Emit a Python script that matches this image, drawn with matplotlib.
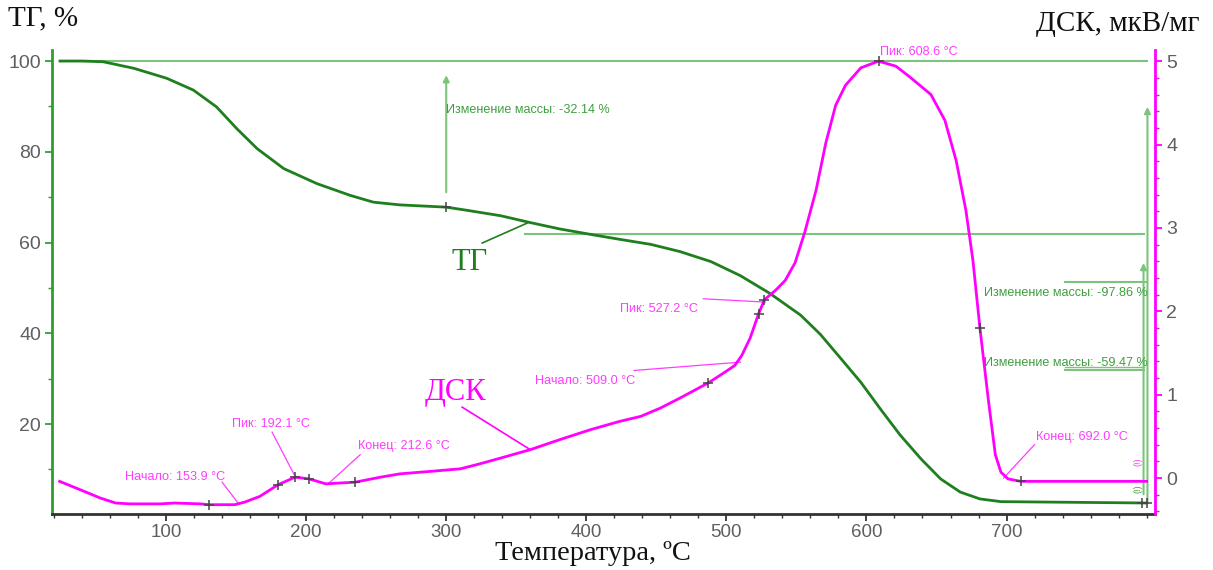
import numpy as np
import matplotlib
matplotlib.use("Agg")
import matplotlib.pyplot as plt
from matplotlib.ticker import MultipleLocator

# ---- data -------------------------------------------------------------
tg_temp = [24.3, 40, 55, 77, 100.5, 119.5, 136, 150.5, 165, 184, 207.6,
           231.4, 248, 267, 300, 315, 339, 360, 381, 403, 424, 446, 467,
           489, 510, 531, 553, 567, 581, 596, 610, 624, 639, 653, 667, 681,
           696, 800]
tg_mass = [100, 100, 99.85, 98.4, 96.2, 93.6, 89.9, 85.1, 80.7, 76.3, 73.0,
           70.4, 68.9, 68.3, 67.8, 67.1, 65.9, 64.4, 63.0, 61.8, 60.7, 59.6,
           58.0, 55.8, 52.7, 48.8, 44.0, 39.8, 34.7, 29.2, 23.3, 17.6, 12.3,
           7.9, 5.0, 3.5, 2.9, 2.6]

dsc_temp = [24, 38.6, 53, 64, 74, 96, 106, 124, 131, 149, 156, 167, 180,
            192.1, 202, 214, 224, 235, 253, 267, 289, 310, 324, 339, 360,
            381, 403, 424, 439, 453, 467, 487, 499, 506, 511, 517, 523,
            527.2, 535, 542, 549, 556, 564, 571, 578, 585, 596, 608.6, 621,
            631, 646, 656, 664, 671, 676, 681, 687, 692, 696, 701, 710, 800]
dsc_signal = [-0.04, -0.14, -0.24, -0.30, -0.31, -0.31, -0.30, -0.31, -0.32,
              -0.32, -0.29, -0.22, -0.08, 0.01, -0.01, -0.07, -0.06, -0.05,
              0.01, 0.05, 0.08, 0.11, 0.17, 0.24, 0.34, 0.46, 0.58, 0.68,
              0.74, 0.84, 0.96, 1.14, 1.27, 1.35, 1.47, 1.68, 1.97, 2.14,
              2.25, 2.37, 2.58, 2.95, 3.45, 4.02, 4.47, 4.71, 4.92, 5.00,
              4.94, 4.81, 4.60, 4.29, 3.81, 3.21, 2.61, 1.80, 0.94, 0.28,
              0.07, -0.01, -0.04, -0.04]

# characteristic points marked on the curves
dsc_mark_temp = [131, 180, 192.1, 202, 235, 487, 523, 527.2, 608.6, 681, 710]
tg_mark_temp = [300, 797, 800]

# DSC event labels: (text, temperature of event)
dsc_events = [
    ("Начало: 153.9 °C", 153.9),
    ("Пик: 192.1 °C", 192.1),
    ("Конец: 212.6 °C", 212.6),
    ("Начало: 509.0 °C", 509.0),
    ("Пик: 527.2 °C", 527.2),
    ("Пик: 608.6 °C", 608.6),
    ("Конец: 692.0 °C", 692.0),
]
mass_changes = [-32.14, -97.86, -59.47]

x_ticks = [100, 200, 300, 400, 500, 600, 700]
tg_ticks = [20, 40, 60, 80, 100]
dsc_ticks = [0, 1, 2, 3, 4, 5]

# ---- styling ----------------------------------------------------------
TG_COLOR = "#1f7f1f"
TG_SPINE = "#2f9e2f"
REF_GREEN = "#7cc47c"
TXT_GREEN = "#3f9f3f"
DSC_COLOR = "#ff00ff"
DSC_TXT = "#ff3cff"
TICK_LABEL = "#5f5f5f"
SANS = ["Liberation Sans", "DejaVu Sans"]
SERIF = ["Liberation Serif", "DejaVu Serif"]
NOTE_SIZE = 9.1

fig = plt.figure(figsize=(12.13, 5.70), dpi=100)
ax = fig.add_axes([0.0429, 0.0982, 0.9093, 0.8138])
ax2 = ax.twinx()

ax.set_xlim(18.6, 806)
ax.set_ylim(0.17, 102.4)
ax2.set_ylim(-0.432, 5.132)

# ---- curves -----------------------------------------------------------
ax.plot(tg_temp, tg_mass, color=TG_COLOR, lw=2.0, zorder=3)
ax2.plot(dsc_temp, dsc_signal, color=DSC_COLOR, lw=2.0, zorder=3)

dsc_mark_y = np.interp(dsc_mark_temp, dsc_temp, dsc_signal)
ax2.plot(dsc_mark_temp, dsc_mark_y, ls="none", marker="+", ms=7, mew=1.1,
         color="#444444", zorder=4)
tg_mark_y = np.interp(tg_mark_temp, tg_temp, tg_mass)
ax.plot(tg_mark_temp, tg_mark_y, ls="none", marker="+", ms=7, mew=1.1,
        color="#444444", zorder=4)

# ---- mass-change construction lines (TG axis) -------------------------
ref_kw = dict(color=REF_GREEN, lw=1.5, zorder=2)
ax.plot([24, 800], [100, 100], **ref_kw)
ax.plot([356, 798], [61.9, 61.9], **ref_kw)
ax.plot([742, 800], [51.3, 51.3], **ref_kw)
ax.plot([742, 798], [31.9, 31.9], **ref_kw)
ax.plot([742, 798], [32.6, 32.6], color=REF_GREEN, lw=1.0, zorder=2)

arrow_kw = dict(arrowstyle="-|>", color=REF_GREEN, lw=1.5, mutation_scale=9,
                shrinkA=0, shrinkB=0)
ax.annotate("", xy=(300, 96.9), xytext=(300, 71.1), arrowprops=arrow_kw)
ax.annotate("", xy=(800.6, 89.9), xytext=(800.6, 2.6), arrowprops=arrow_kw)
ax.annotate("", xy=(797.8, 55.5), xytext=(797.8, 4.5), arrowprops=arrow_kw)

mc_pos = [(300, 89.2), (683.6, 48.9), (683.6, 33.4)]
for value, (tx, ty) in zip(mass_changes, mc_pos):
    ax.text(tx, ty, f"Изменение массы: {value:.2f} %", color=TXT_GREEN,
            fontsize=NOTE_SIZE, family=SANS, va="center", ha="left", zorder=5)

# ---- DSC event labels with leader lines ------------------------------
label_pos = [(70.7, 0.01), (147, 0.65), (237, 0.38), (363.6, 1.16),
             (424, 2.03), (610, 5.11), (720.7, 0.49)]
leaders = [((140, -0.05), (151.4, -0.30)),
           ((175.7, 0.55), (192.1, 0.02)),
           ((238.6, 0.28), (215.7, -0.07)),
           ((434, 1.29), (510, 1.39)),
           ((483.6, 2.15), (527.9, 2.11)),
           None,
           ((720, 0.40), (697.9, 0.0))]
for (text, _), (tx, ty), lead in zip(dsc_events, label_pos, leaders):
    ax2.text(tx, ty, text, color=DSC_TXT, fontsize=NOTE_SIZE, family=SANS,
             va="center", ha="left", zorder=5)
    if lead is not None:
        (x0, y0), (x1, y1) = lead
        ax2.plot([x0, x1], [y0, y1], color=DSC_TXT, lw=0.9, zorder=2)

# small warning flags at the end of the run
ax2.text(797, 0.2, "(!)", color=DSC_TXT, fontsize=6.5, family=SANS,
         ha="right", va="center", rotation=90)
ax2.text(797, -0.13, "(!)", color=TXT_GREEN, fontsize=6.5, family=SANS,
         ha="right", va="center", rotation=90)

# ---- curve names ------------------------------------------------------
ax.text(316.4, 55.7, "ТГ", color=TG_COLOR, fontsize=22, family=SERIF,
        ha="center", va="center")
ax.plot([325.7, 357.9], [59.9, 64.3], color=TG_COLOR, lw=1.2)
ax2.text(306.4, 1.02, "ДСК", color=DSC_COLOR, fontsize=22, family=SERIF,
         ha="center", va="center")
ax2.plot([311.4, 360], [0.85, 0.34], color=DSC_COLOR, lw=1.2)

# ---- axes styling -----------------------------------------------------
for a in (ax, ax2):
    a.spines["top"].set_visible(False)
ax.spines["right"].set_visible(False)
ax2.spines["left"].set_visible(False)
ax2.spines["bottom"].set_visible(False)
ax.spines["left"].set_color(TG_SPINE)
ax.spines["left"].set_linewidth(2.0)
ax.spines["bottom"].set_color("#333333")
ax.spines["bottom"].set_linewidth(2.0)
ax2.spines["right"].set_color(DSC_COLOR)
ax2.spines["right"].set_linewidth(2.0)

ax.set_xticks(x_ticks)
ax.xaxis.set_minor_locator(MultipleLocator(20))
ax.set_yticks(tg_ticks)
ax.yaxis.set_minor_locator(MultipleLocator(10))
ax2.set_yticks(dsc_ticks)
ax2.yaxis.set_minor_locator(MultipleLocator(0.2))

ax.tick_params(axis="x", which="both", colors="#333333", labelcolor=TICK_LABEL,
               labelsize=13.5, direction="out")
ax.tick_params(axis="x", which="major", length=5, width=1.3, pad=2)
ax.tick_params(axis="x", which="minor", length=3, width=1.0)
ax.tick_params(axis="y", which="both", colors=TG_SPINE, labelcolor=TICK_LABEL,
               labelsize=14, direction="out")
ax.tick_params(axis="y", which="major", length=5, width=1.3, pad=3)
ax.tick_params(axis="y", which="minor", length=3, width=1.0)
ax2.tick_params(axis="y", which="both", colors=DSC_COLOR, labelcolor=TICK_LABEL,
                labelsize=14, direction="out")
ax2.tick_params(axis="y", which="major", length=5, width=1.3, pad=3)
ax2.tick_params(axis="y", which="minor", length=3, width=1.0)
for lab in ax.get_xticklabels() + ax.get_yticklabels() + ax2.get_yticklabels():
    lab.set_family(SANS)

# ---- axis titles ------------------------------------------------------
fig.text(0.007, 0.968, "ТГ, %", fontsize=21, family=SERIF, ha="left",
         va="center", color="#111111")
fig.text(0.989, 0.958, "ДСК, мкВ/мг", fontsize=21, family=SERIF, ha="right",
         va="center", color="#111111")
fig.text(0.489, 0.029, "Температура, ºC", fontsize=20.5, family=SERIF,
         ha="center", va="center", color="#111111")

fig.savefig("out.png", dpi=100)
